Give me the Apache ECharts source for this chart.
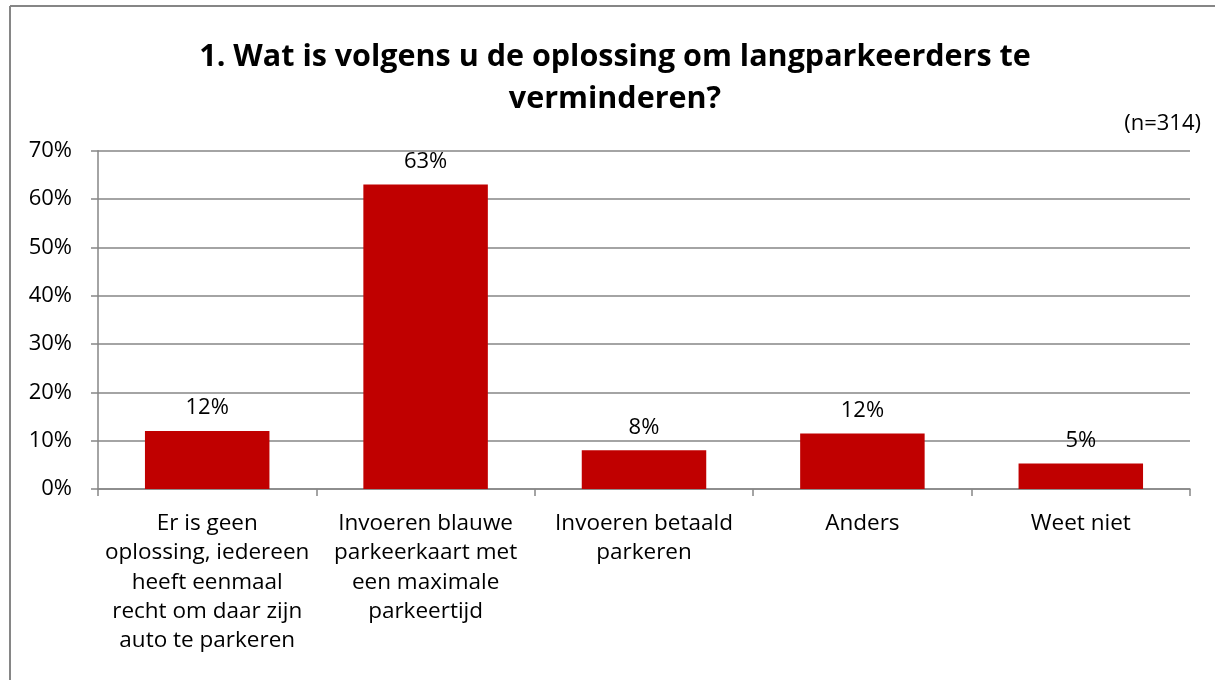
<!DOCTYPE html>
<html>
<head>
<meta charset="utf-8">
<script src="https://cdn.jsdelivr.net/npm/echarts@6/dist/echarts.min.js"></script>
<style>
  html, body { margin: 0; padding: 0; background: #fff; }
  #chart { width: 1215px; height: 680px; }
</style>
</head>
<body>
<div id="chart"></div>
<script>
  // categories (line breaks as in the original)
  var categories = [
    'Er is geen\noplossing, iedereen\nheeft eenmaal\nrecht om daar zijn\nauto te parkeren',
    'Invoeren blauwe\nparkeerkaart met\neen maximale\nparkeertijd',
    'Invoeren betaald\nparkeren',
    'Anders',
    'Weet niet'
  ];
  // share of respondents, %
  var values = [12.0, 63.0, 8.0, 11.5, 5.3];
  var titleText = '1. Wat is volgens u de oplossing om langparkeerders te\nverminderen?';
  var sampleText = '(n=314)';

  var font = '"Open Sans", sans-serif';

  var chart = echarts.init(document.getElementById('chart'));
  chart.setOption({
    animation: false,
    backgroundColor: '#fff',
    title: [{
      text: titleText,
      left: 615,
      top: 36,
      padding: 0,
      textAlign: 'center',
      textStyle: {
        fontFamily: font,
        fontSize: 30.5,
        fontWeight: 'bold',
        color: '#000',
        lineHeight: 42,
        align: 'center'
      }
    }, {
      text: sampleText,
      right: 14,
      top: 113,
      padding: 0,
      textStyle: {fontFamily: font, fontSize: 22, fontWeight: 'normal', color: '#000'}
    }],
    graphic: [
      {type: 'line', shape: {x1: 10, y1: 6, x2: 1215, y2: 6}, style: {stroke: '#868686', lineWidth: 2}},
      {type: 'line', shape: {x1: 10, y1: 6, x2: 10, y2: 680}, style: {stroke: '#868686', lineWidth: 2}}
    ],
    grid: {left: 98, right: 25, top: 150.7, bottom: 191},
    xAxis: {
      type: 'category',
      data: categories,
      axisLine: {lineStyle: {color: '#868686', width: 1.5}},
      axisTick: {show: true, length: 7, lineStyle: {color: '#868686', width: 1.5}},
      axisLabel: {
        interval: 0,
        margin: 20,
        fontFamily: font,
        fontSize: 22.5,
        color: '#000',
        lineHeight: 29.3,
        align: 'center'
      }
    },
    yAxis: {
      type: 'value',
      min: 0,
      max: 70,
      interval: 10,
      axisLine: {show: true, lineStyle: {color: '#868686', width: 1.5}},
      axisTick: {show: true, length: 7, lineStyle: {color: '#868686', width: 1.5}},
      splitLine: {lineStyle: {color: '#868686', width: 1.5}},
      axisLabel: {
        formatter: '{value}%',
        margin: 26,
        fontFamily: font,
        fontSize: 22,
        color: '#000'
      }
    },
    series: [{
      type: 'bar',
      data: values,
      barWidth: '57%',
      itemStyle: {color: '#C00000'},
      label: {
        show: true,
        position: 'top',
        distance: 12,
        fontFamily: font,
        fontSize: 22,
        color: '#000',
        formatter: function (p) { return Math.round(p.value) + '%'; }
      }
    }]
  });
</script>
</body>
</html>
